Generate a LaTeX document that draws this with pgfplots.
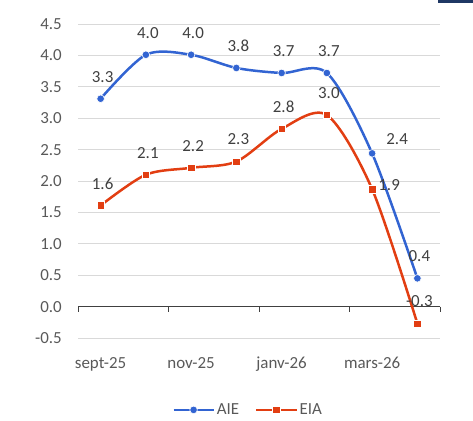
\documentclass[border=0pt]{standalone}
\usepackage{fontspec}
\setmainfont{Carlito}
\usepackage{pgfplots}
\pgfplotsset{compat=1.18}
\usepackage{pgfplotstable}
\definecolor{aie}{RGB}{50,100,210}
\definecolor{eia}{RGB}{226,62,18}
\definecolor{gridc}{RGB}{217,217,217}
\definecolor{txt}{RGB}{89,89,89}
\definecolor{lbl}{RGB}{64,64,64}
\definecolor{axc}{RGB}{64,64,64}
\definecolor{navy}{RGB}{31,56,100}
\pgfplotstableread{
x y lab
0 3.31 3.3
1 4.01 4.0
2 4.01 4.0
3 3.80 3.8
4 3.72 3.7
5 3.72 3.7
6 2.44 2.4
7 0.45 0.4
}\aietab
\pgfplotstableread{
x y lab
0 1.61 1.6
1 2.10 2.1
2 2.21 2.2
3 2.31 2.3
4 2.83 2.8
5 3.05 3.0
6 1.87 1.9
7 -0.27 -0.3
}\eiatab
\begin{document}
\begin{tikzpicture}
\useasboundingbox (-78bp,-83bp) rectangle (395bp,338bp);
\begin{axis}[
  scale only axis, width=362bp, height=314bp,
  xmin=-0.5, xmax=7.5, ymin=-0.5, ymax=4.5,
  axis line style={draw=none}, tick style={draw=none},
  ytick={-0.5,0,0.5,1,1.5,2,2.5,3,3.5,4,4.5},
  yticklabels={-0.5,0.0,0.5,1.0,1.5,2.0,2.5,3.0,3.5,4.0,4.5},
  xtick={0,2,4,6}, xticklabels={sept-25,nov-25,janv-26,mars-26},
  ymajorgrids, grid style={gridc, line width=1bp},
  tick label style={font=\fontsize{17}{20}\selectfont, text=txt, inner sep=0pt},
  yticklabel style={anchor=east, xshift=-16bp},
  xticklabel style={anchor=base, yshift=-30bp},
  clip=false,
  legend style={at={(0.47,-0.229)}, anchor=center, draw=none, fill=none,
    legend columns=2, font=\fontsize{17}{20}\selectfont, text=txt,
    /tikz/every even column/.append style={column sep=14bp}},
  legend image code/.code={\draw[mark repeat=2, mark phase=2] plot coordinates {(0bp,0bp)(20bp,0bp)(40bp,0bp)};},
  every node near coord/.append style={font=\fontsize{17}{20}\selectfont, text=lbl, inner sep=0pt, anchor=center, xshift=2bp, yshift=22bp},
]
\draw[axc, line width=1.2bp] (axis cs:-0.5,0) -- (axis cs:7.5,0);
\draw[axc, line width=1bp] (axis cs:-0.5,0) -- ++(0pt,-5.5bp);
\draw[axc, line width=1bp] (axis cs:1.5,0) -- ++(0pt,-5.5bp);
\draw[axc, line width=1bp] (axis cs:3.5,0) -- ++(0pt,-5.5bp);
\draw[axc, line width=1bp] (axis cs:5.5,0) -- ++(0pt,-5.5bp);
\draw[axc, line width=1bp] (axis cs:7.5,0) -- ++(0pt,-5.5bp);
\addplot[aie, line width=2.5bp, smooth, mark=*, mark size=3.8bp,
  mark options={draw=white, line width=0.6bp, fill=aie},
  point meta=explicit symbolic, nodes near coords,
  coordinate style/.condition={\coordindex==6}{xshift=23bp, yshift=-8bp}]
  table[x=x, y=y, meta=lab] {\aietab};
\addlegendentry{AIE}
\addplot[eia, line width=2.5bp, smooth, mark=square*, mark size=3.7bp,
  mark options={draw=white, line width=0.6bp, fill=eia},
  point meta=explicit symbolic, nodes near coords,
  coordinate style/.condition={\coordindex==6}{xshift=15bp, yshift=-18bp}]
  table[x=x, y=y, meta=lab] {\eiatab};
\addlegendentry{EIA}
\end{axis}
\fill[navy] (360bp,335.3bp) rectangle (395bp,338bp);
\end{tikzpicture}
\end{document}
